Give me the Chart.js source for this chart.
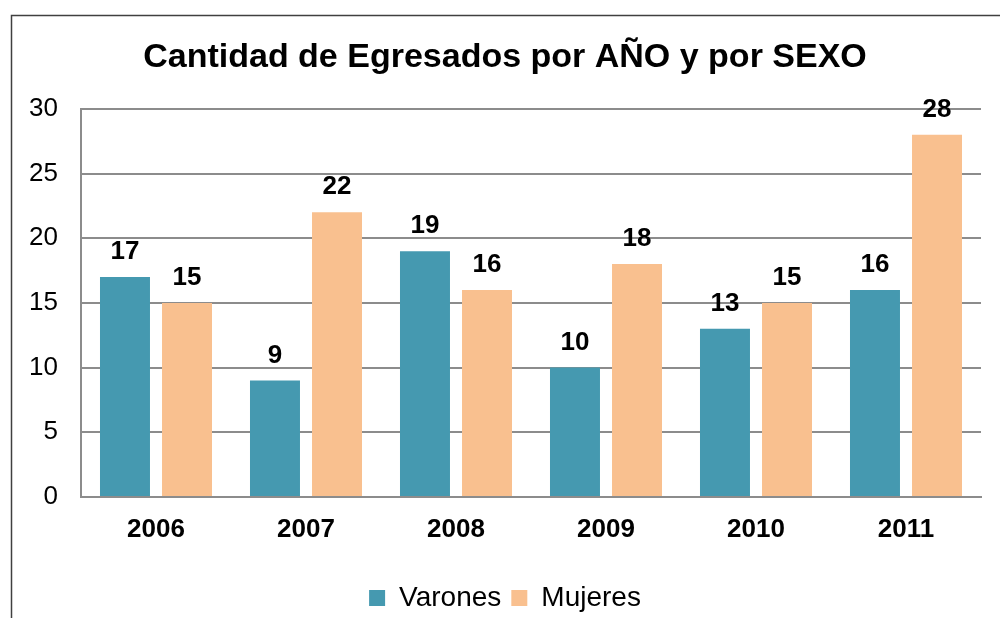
<!DOCTYPE html>
<html>
<head>
<meta charset="utf-8">
<script src="https://cdn.jsdelivr.net/npm/chart.js@4.4.1/dist/chart.umd.min.js"></script>
<style>
  html, body { margin: 0; padding: 0; background: #fff; overflow: hidden; }
  #wrap { position: relative; width: 1000px; height: 622px; }
</style>
</head>
<body>
<div id="wrap"><canvas id="chart"></canvas></div>
<script>
// Egresados por año y sexo
const years = ['2006', '2007', '2008', '2009', '2010', '2011'];
const varones = [17, 9, 19, 10, 13, 16];
const mujeres = [15, 22, 16, 18, 15, 28];
const yTicks = [0, 5, 10, 15, 20, 25, 30];

const FONT = 'Arial, "Liberation Sans", sans-serif';

// outer frame of the chart object
const framePlugin = {
    id: 'frame',
    beforeDraw(chart) {
        const ctx = chart.ctx;
        ctx.save();
        ctx.strokeStyle = '#404040';
        ctx.lineWidth = 1.5;
        ctx.strokeRect(11.5, 15.5, 1200, 800);
        ctx.restore();
    }
};

// value labels above each bar
const valueLabels = {
    id: 'valueLabels',
    afterDatasetsDraw(chart) {
        const ctx = chart.ctx;
        ctx.save();
        ctx.font = 'bold 26px ' + FONT;
        ctx.fillStyle = '#000';
        ctx.textAlign = 'center';
        ctx.textBaseline = 'middle';
        chart.data.datasets.forEach((ds, i) => {
            chart.getDatasetMeta(i).data.forEach((bar, j) => {
                ctx.fillText(ds.data[j], bar.x, bar.y - 25);
            });
        });
        ctx.restore();
    }
};

new Chart(document.getElementById('chart'), {
    type: 'bar',
    data: {
        labels: years,
        datasets: [{
            label: 'Varones',
            data: varones,
            backgroundColor: '#4599B0',
            categoryPercentage: 0.827,
            barPercentage: 0.806
        }, {
            label: 'Mujeres',
            data: mujeres,
            backgroundColor: '#F9C08F',
            categoryPercentage: 0.827,
            barPercentage: 0.806
        }]
    },
    options: {
        responsive: true,
        maintainAspectRatio: false,
        animation: false,
        layout: {
            padding: { left: 29, right: 19, top: 0, bottom: 0 }
        },
        plugins: {
            title: {
                display: true,
                text: 'Cantidad de Egresados por AÑO y por SEXO',
                color: '#000',
                font: { family: FONT, size: 34, weight: 'bold', lineHeight: 1.2 },
                padding: { top: 37, bottom: 31 }
            },
            legend: {
                position: 'bottom',
                labels: {
                    color: '#000',
                    font: { family: FONT, size: 28 },
                    boxWidth: 16,
                    boxHeight: 16,
                    padding: 10
                }
            },
            tooltip: { enabled: false }
        },
        scales: {
            x: {
                grid: { display: false, drawTicks: false },
                border: { display: true, color: '#8C8C8C', width: 2 },
                ticks: {
                    color: '#000',
                    font: { family: FONT, size: 26, weight: 'bold' },
                    padding: 17
                },
                afterFit(scale) { scale.height = 77; }
            },
            y: {
                min: 0,
                max: 30,
                afterBuildTicks(scale) { scale.ticks = yTicks.map(v => ({ value: v })); },
                grid: { color: '#8C8C8C', lineWidth: 2, drawTicks: false },
                border: { display: true, color: '#8C8C8C', width: 2 },
                ticks: {
                    color: '#000',
                    font: { family: FONT, size: 26 },
                    padding: 23
                },
                afterFit(scale) { scale.width = 52; }
            }
        }
    },
    plugins: [framePlugin, valueLabels]
});
</script>
</body>
</html>
